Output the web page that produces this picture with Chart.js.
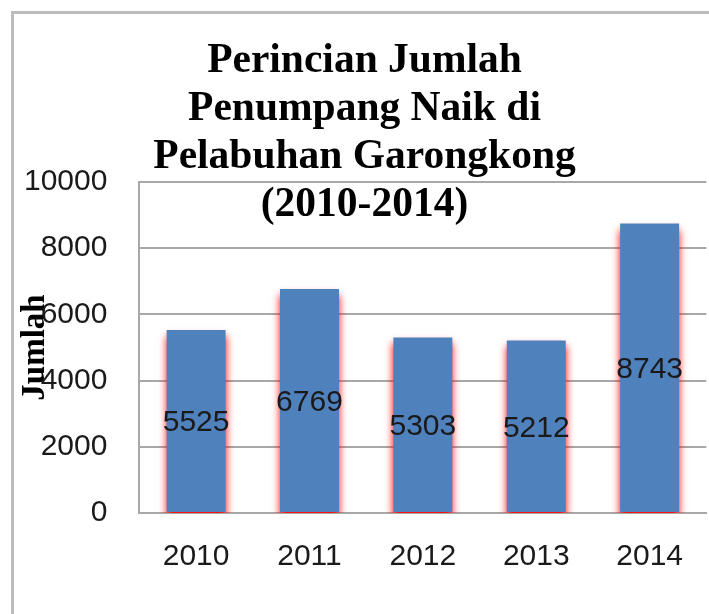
<!DOCTYPE html>
<html>
<head>
<meta charset="utf-8">
<script src="https://cdn.jsdelivr.net/npm/chart.js@4.4.0/dist/chart.umd.min.js"></script>
<style>
  html, body { margin: 0; padding: 0; background: #ffffff; overflow: hidden; }
  #wrap { position: relative; width: 709px; height: 614px; }
  #frame { position: absolute; left: 11px; top: 11px; width: 760px; height: 700px;
           border: 3px solid #bcbcbc; box-sizing: border-box; }
  #c { position: absolute; left: 0; top: 0; }
</style>
</head>
<body>
<div id="wrap">
  <div id="frame"></div>
  <canvas id="c" width="709" height="614"></canvas>
</div>
<script>
const titleLines = ["Perincian Jumlah", "Penumpang Naik di", "Pelabuhan Garongkong", "(2010-2014)"];
const yAxisTitle = "Jumlah";
const categories = ["2010", "2011", "2012", "2013", "2014"];
const values = [5525, 6769, 5303, 5212, 8743];
const yTicks = [0, 2000, 4000, 6000, 8000, 10000];

const barGlow = {
  id: 'barGlow',
  beforeDatasetDraw(chart) {
    const ctx = chart.ctx;
    ctx.save();
    ctx.shadowColor = 'rgba(255, 0, 0, 1)';
    ctx.shadowBlur = 8;
    ctx.shadowOffsetX = 0;
    ctx.shadowOffsetY = 6;
  },
  afterDatasetDraw(chart) {
    chart.ctx.restore();
  }
};

const valueLabels = {
  id: 'valueLabels',
  afterDatasetsDraw(chart) {
    const ctx = chart.ctx;
    const meta = chart.getDatasetMeta(0);
    ctx.save();
    ctx.font = '30px "Liberation Sans", Arial, sans-serif';
    ctx.fillStyle = '#1a1a1a';
    ctx.textAlign = 'center';
    ctx.textBaseline = 'middle';
    meta.data.forEach((el, i) => {
      const p = el.getProps(['x', 'y', 'base'], true);
      ctx.fillText(String(chart.data.datasets[0].data[i]), p.x, (p.y + p.base) / 2 + 2);
    });
    ctx.restore();
  }
};

new Chart(document.getElementById('c'), {
  type: 'bar',
  data: {
    labels: categories,
    datasets: [{
      data: values,
      backgroundColor: '#4f81bd',
      borderWidth: 0,
      barPercentage: 0.52,
      categoryPercentage: 1.0
    }]
  },
  options: {
    responsive: false,
    animation: false,
    devicePixelRatio: 1,
    layout: { padding: { left: 20, right: 0, top: 0, bottom: 13 } },
    plugins: {
      legend: { display: false },
      tooltip: { enabled: false },
      title: {
        display: true,
        text: titleLines,
        color: '#000000',
        font: { family: '"Liberation Serif", "Times New Roman", serif', size: 41.5, weight: 'bold', lineHeight: '48px' },
        padding: { top: 37, bottom: -47 },
        fullSize: true
      }
    },
    scales: {
      x: {
        grid: { display: false, drawTicks: false },
        border: { display: true, color: '#a8a8a8', width: 2 },
        ticks: {
          color: '#1a1a1a',
          padding: 26,
          font: { family: '"Liberation Sans", Arial, sans-serif', size: 30, lineHeight: 1.2 }
        }
      },
      y: {
        min: 0,
        max: 10000,
        afterBuildTicks(scale) { scale.ticks = yTicks.map(v => ({ value: v })); },
        grid: { color: '#a8a8a8', lineWidth: 2, drawTicks: false },
        border: { display: true, color: '#a8a8a8', width: 2 },
        ticks: {
          color: '#1a1a1a',
          padding: 32,
          font: { family: '"Liberation Sans", Arial, sans-serif', size: 30, lineHeight: 1.2 },
          callback: v => String(v)
        },
        title: {
          display: true,
          text: yAxisTitle,
          color: '#000000',
          font: { family: '"Liberation Serif", "Times New Roman", serif', size: 33, weight: 'bold', lineHeight: '30px' },
          padding: { top: 0, bottom: -58 }
        }
      }
    }
  },
  plugins: [barGlow, valueLabels]
});
</script>
</body>
</html>
